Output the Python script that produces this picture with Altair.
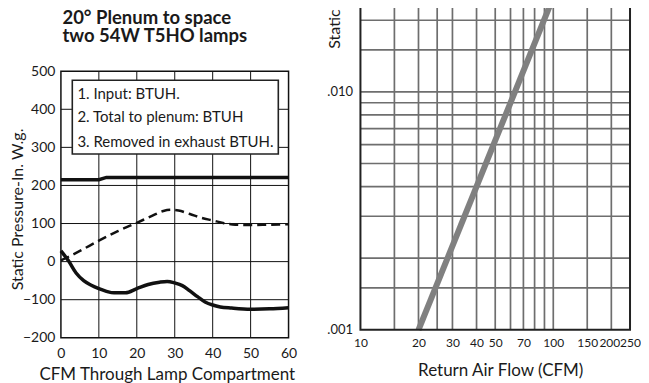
import altair as alt
import pandas as pd

# ---------------- data ----------------
# Left panel: BTUH vs CFM through lamp compartment
cfm_input = [0, 10, 12, 20, 30, 40, 50, 60]
btuh_input = [215, 215, 221, 221, 221, 221, 221, 221]

cfm_total = [0, 5, 10, 15, 20, 24, 27, 29, 31, 34, 37, 40, 43, 46, 50, 55, 60]
btuh_total = [3, 28, 55, 80, 102, 120, 133, 136, 134, 125, 115, 108, 101, 97, 96, 97, 98]

cfm_exhaust = [0, 2, 4, 6, 8, 10, 12, 14, 17, 20, 23, 26, 28, 30, 32, 34, 36, 38,
               40, 42, 45, 50, 55, 60]
btuh_exhaust = [28, 2, -30, -50, -62, -71, -78, -82, -82, -71, -60, -54, -52, -56,
                -63, -77, -92, -106, -114, -119, -122, -125, -124, -121]

legend_lines = ["1. Input: BTUH.", "2. Total to plenum: BTUH", "3. Removed in exhaust BTUH."]
title_lines = ["20° Plenum to space", "two 54W T5HO lamps"]
left_x_ticks = [0, 10, 20, 30, 40, 50, 60]
left_y_ticks = [-200, -100, 0, 100, 200, 300, 400, 500]
left_x_grid = [10, 20, 30, 40, 50]
left_y_grid = [-100, 0, 100, 200, 300, 400]

# Right panel: static pressure vs return air flow (log-log)
flow = [20, 100]
pressure = [0.001, 0.025]
right_x_ticks = [10, 20, 30, 40, 50, 70, 100, 150, 200, 250]
right_y_ticks = [0.001, 0.01]
right_x_grid = [15, 20, 25, 30, 40, 50, 60, 70, 80, 90, 100, 150, 200]
right_y_grid = [0.0015, 0.002, 0.003, 0.004, 0.005, 0.006, 0.007, 0.008, 0.009,
                0.01, 0.015, 0.02]

# ---------------- layout constants ----------------
FONT = "Lato"
TXT = "#1a1a1a"
TOP = -201                      # page y of both plot-area tops (above the window)
PX_PER_UNIT = 267 / 700         # left panel vertical scale
W_L = 228
H_L = 337 - TOP
Y_L_TOP = -200 + H_L / PX_PER_UNIT
W_R = 270
H_R = 329 - TOP
DEC = 238.3                     # px per decade on right y axis
P_TOP = 0.001 * 10 ** (H_R / DEC)
X_R_MAX = 250

xs_l = alt.Scale(domain=[0, 60], nice=False, zero=False)
ys_l = alt.Scale(domain=[-200, Y_L_TOP], nice=False, zero=False)
xs_r = alt.Scale(type="log", domain=[10, X_R_MAX], nice=False)
ys_r = alt.Scale(type="log", domain=[0.001, P_TOP], nice=False)

x_axis_l = alt.Axis(values=left_x_ticks, title="CFM Through Lamp Compartment",
                    grid=False, ticks=False, tickSize=0, domain=False,
                    labelFont=FONT, labelFontSize=14, labelColor=TXT, labelPadding=9,
                    labelFlush=False, labelOverlap=False,
                    titleFont=FONT, titleFontSize=17, titleFontWeight="normal",
                    titleColor=TXT, titleX=106, titleY=42, titleAlign="center",
                    titleBaseline="alphabetic")
y_axis_l = alt.Axis(values=left_y_ticks, title="Static Pressure-In. W.g.",
                    grid=False, ticks=False, tickSize=0, domain=False,
                    labelFont=FONT, labelFontSize=14, labelColor=TXT, labelPadding=6,
                    labelFlush=False, labelOverlap=False,
                    titleFont=FONT, titleFontSize=16, titleFontWeight="normal",
                    titleColor=TXT, titleAngle=270, titleX=22 - 60.5, titleY=208 - TOP,
                    titleAlign="center", titleBaseline="alphabetic")
x_axis_r = alt.Axis(values=right_x_ticks, format="d", title="Return Air Flow (CFM)",
                    grid=False, ticks=False, tickSize=0, domain=False,
                    labelFont=FONT, labelFontSize=12,
                    labelOffset=alt.condition("datum.value == 200", alt.value(-2), alt.value(0)),
                    labelColor=TXT, labelPadding=8, labelFlush=False, labelOverlap=False,
                    titleFont=FONT, titleFontSize=17, titleFontWeight="normal",
                    titleColor=TXT, titleX=140, titleY=46, titleAlign="center",
                    titleBaseline="alphabetic")
y_axis_r = alt.Axis(values=right_y_ticks,
                    labelExpr="slice(format(datum.value, '.3f'), 1)",
                    title="Static Pressure (In. W.g.)",
                    grid=False, ticks=False, tickSize=0, domain=False,
                    labelFont=FONT, labelFontSize=13, labelColor=TXT, labelPadding=8,
                    labelFlush=False, labelOverlap=False,
                    titleFont=FONT, titleFontSize=16, titleFontWeight="normal",
                    titleColor=TXT, titleAngle=270, titleX=340 - 360.7, titleY=47 - TOP,
                    titleAlign="left", titleBaseline="alphabetic")


def XL(f):
    return alt.X(f, scale=xs_l, axis=x_axis_l)


def YL(f):
    return alt.Y(f, scale=ys_l, axis=y_axis_l)


def XR(f):
    return alt.X(f, scale=xs_r, axis=x_axis_r)


def YR(f):
    return alt.Y(f, scale=ys_r, axis=y_axis_r)


# ---------------- left panel ----------------
vg = pd.DataFrame({"x": left_x_grid, "y1": -200, "y2": 500})
hg = pd.DataFrame({"y": left_y_grid, "x1": 0, "x2": 60})
frame_l = pd.DataFrame({"x1": [0], "x2": [60], "y1": [-200], "y2": [500]})
box_l = pd.DataFrame({"x1": [3.0], "x2": [57.3], "y1": [282.4], "y2": [476.4]})

grid_v_l = alt.Chart(vg).mark_rule(color="#111", strokeWidth=1).encode(
    x=XL("x:Q"), y=YL("y1:Q"), y2="y2:Q")
grid_h_l = alt.Chart(hg).mark_rule(color="#111", strokeWidth=1).encode(
    y=YL("y:Q"), x=XL("x1:Q"), x2="x2:Q")
frame_left = alt.Chart(frame_l).mark_rect(fillOpacity=0, stroke="#111", strokeWidth=1.5).encode(
    x=XL("x1:Q"), x2="x2:Q", y=YL("y1:Q"), y2="y2:Q")
legend_box = alt.Chart(box_l).mark_rect(fill="white", stroke="#222", strokeWidth=1.6).encode(
    x=XL("x1:Q"), x2="x2:Q", y=YL("y1:Q"), y2="y2:Q")

legend_texts = []
for line, base in zip(legend_lines, [98, 121, 146]):
    legend_texts.append(
        alt.Chart(pd.DataFrame({"t": [line]})).mark_text(
            align="left", baseline="alphabetic", font=FONT, fontSize=15, color=TXT
        ).encode(x=alt.value(77 - 60.5), y=alt.value(base - TOP), text="t:N"))

title_texts = []
for line, base in zip(title_lines, [22.5, 41]):
    title_texts.append(
        alt.Chart(pd.DataFrame({"t": [line]})).mark_text(
            align="left", baseline="alphabetic", font=FONT, fontSize=18.5,
            fontWeight="bold", color=TXT
        ).encode(x=alt.value(1.5), y=alt.value(base - TOP), text="t:N"))

d_in = pd.DataFrame({"cfm": cfm_input, "btuh": btuh_input})
d_tot = pd.DataFrame({"cfm": cfm_total, "btuh": btuh_total})
d_ex = pd.DataFrame({"cfm": cfm_exhaust, "btuh": btuh_exhaust})

line_in = alt.Chart(d_in).mark_line(color="#111", strokeWidth=3.5).encode(
    x=XL("cfm:Q"), y=YL("btuh:Q"))
line_tot = alt.Chart(d_tot).mark_line(color="#111", strokeWidth=2.5, strokeDash=[9, 5],
                                      interpolate="monotone").encode(
    x=XL("cfm:Q"), y=YL("btuh:Q"))
line_ex = alt.Chart(d_ex).mark_line(color="#111", strokeWidth=3.5,
                                    interpolate="monotone").encode(
    x=XL("cfm:Q"), y=YL("btuh:Q"))

left = alt.layer(grid_v_l, grid_h_l, frame_left, legend_box, *legend_texts,
                 line_in, line_tot, line_ex, *title_texts).properties(width=W_L, height=H_L)

# ---------------- right panel ----------------
vg_r = pd.DataFrame({"x": right_x_grid, "y1": 0.001, "y2": P_TOP})
hg_r = pd.DataFrame({"y": right_y_grid, "x1": 10, "x2": X_R_MAX})
frame_r = pd.DataFrame({"x1": [10], "x2": [X_R_MAX], "y1": [0.001], "y2": [P_TOP]})

grid_v_r = alt.Chart(vg_r).mark_rule(color="#6e6e6e", strokeWidth=1.7).encode(
    x=XR("x:Q"), y=YR("y1:Q"), y2="y2:Q")
grid_h_r = alt.Chart(hg_r).mark_rule(color="#6e6e6e", strokeWidth=1.7).encode(
    y=YR("y:Q"), x=XR("x1:Q"), x2="x2:Q")
frame_right = alt.Chart(frame_r).mark_rect(fillOpacity=0, stroke="#222", strokeWidth=2).encode(
    x=XR("x1:Q"), x2="x2:Q", y=YR("y1:Q"), y2="y2:Q")

d_flow = pd.DataFrame({"flow": flow, "p": pressure})
flow_line = alt.Chart(d_flow).mark_line(color="#808080", strokeWidth=6, strokeCap="butt").encode(
    x=XR("flow:Q"), y=YR("p:Q"))

right = alt.layer(grid_v_r, grid_h_r, flow_line, frame_right).properties(width=W_R, height=H_R)

chart = alt.hconcat(left, right, spacing=72, bounds="flush").properties(
    padding={"left": 1, "top": -210, "right": 0, "bottom": 2}
).configure_view(stroke="transparent")

chart.save("out.html", embed_options={"renderer": "svg", "actions": False})
